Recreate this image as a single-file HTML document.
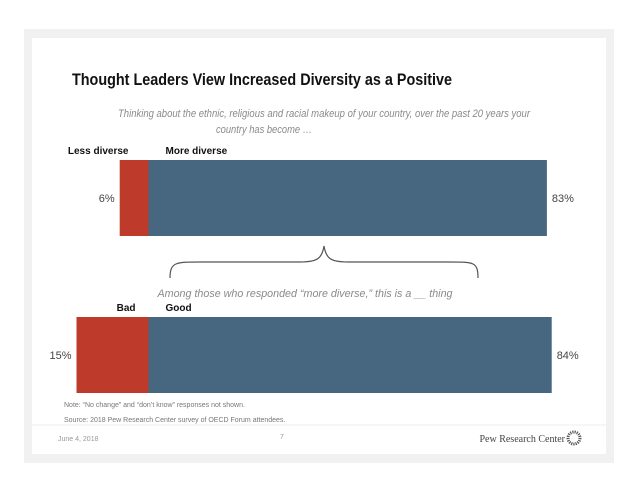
<!DOCTYPE html>
<html><head><meta charset="utf-8"><style>
html,body{margin:0;padding:0;background:#fff;}
svg{display:block;font-family:"Liberation Sans",sans-serif;}
</style></head><body>
<svg width="638" height="493" viewBox="0 0 638 493">
<rect x="24" y="29" width="590" height="434" fill="#f1f1f1"/>
<rect x="32" y="38" width="574" height="416" fill="#ffffff"/>
<text x="262" y="85" text-anchor="middle" font-size="17" font-weight="bold" fill="#111" textLength="380" lengthAdjust="spacingAndGlyphs">Thought Leaders View Increased Diversity as a Positive</text>
<text x="324" y="117" text-anchor="middle" font-size="11" font-style="italic" fill="#8a8a8a" textLength="412" lengthAdjust="spacingAndGlyphs">Thinking about the ethnic, religious and racial makeup of your country, over the past 20 years your</text>
<text x="264" y="133" text-anchor="middle" font-size="11" font-style="italic" fill="#8a8a8a" textLength="96" lengthAdjust="spacingAndGlyphs">country has become …</text>
<g id="bars"></g>
<path d="M170,278 C170,262 176,262 200,262 L300,262 C318,262 322,258 324,246 C326,258 330,262 348,262 L450,262 C474,262 478,262 478,278" fill="none" stroke="#555" stroke-width="1.2"/>
<text x="305" y="297" text-anchor="middle" font-size="11" font-style="italic" fill="#8a8a8a" textLength="295" lengthAdjust="spacingAndGlyphs">Among those who responded “more diverse,” this is a __ thing</text>
<line x1="32" y1="425" x2="606" y2="425" stroke="#eee"/>
<text x="64" y="407" font-size="7" fill="#777">Note: “No change” and “don’t know” responses not shown.</text>
<text x="64" y="422" font-size="7" fill="#777">Source: 2018 Pew Research Center survey of OECD Forum attendees.</text>
<text x="58" y="441" font-size="7" fill="#999">June 4, 2018</text>
<text x="282" y="439" font-size="7" fill="#999" text-anchor="middle">7</text>
<text x="565" y="442" font-size="10" fill="#444" text-anchor="end" font-family="Liberation Serif,serif">Pew Research Center</text>
<circle cx="574" cy="438" r="6" fill="none" stroke="#555" stroke-width="3" stroke-dasharray="1.2 1"/>
</svg>
<script>
const rowNames = ["diversity", "good-bad"];
const negValues = [6, 15];
const posValues = [83, 84];
const negLabels = ["Less diverse", "Bad"];
const posLabels = ["More diverse", "Good"];
const ns = "http://www.w3.org/2000/svg";
const g = document.getElementById("bars");
const x0 = 148.5, scale = 4.8;
const rowTop = [160, 317], rowH = 76;
function xs(v){ return v * scale; }
function mk(tag, attrs, txt){
  const e = document.createElementNS(ns, tag);
  for (const k in attrs) e.setAttribute(k, attrs[k]);
  if (txt) e.textContent = txt;
  g.appendChild(e);
  return e;
}
rowNames.forEach((n, i) => {
  const y = rowTop[i];
  const r = mk("rect", {x: x0 - xs(negValues[i]), y: y, width: xs(negValues[i]), height: rowH, fill: "#be3a2a"});
  
  
  const b = mk("rect", {x: x0, y: y, width: xs(posValues[i]), height: rowH, fill: "#46677f"});
  
  
  const lv = mk("text", {x: x0 - xs(negValues[i]) - 5, y: y + rowH/2 + 4, "text-anchor": "end", "font-size": 11, fill: "#444"}, negValues[i] + "%");
  
  
  const rv = mk("text", {x: x0 + xs(posValues[i]) + 5, y: y + rowH/2 + 4, "font-size": 11, fill: "#444"}, posValues[i] + "%");
  
  
  const nl = mk("text", {x: x0 - (i === 0 ? 20 : 13), y: y - 6, "text-anchor": "end", "font-size": 10, "font-weight": "bold", fill: "#111"}, negLabels[i]);
  
  
  const pl = mk("text", {x: x0 + 17, y: y - 6, "font-size": 10, "font-weight": "bold", fill: "#111"}, posLabels[i]);
  
  
});
</script>
</body></html>
